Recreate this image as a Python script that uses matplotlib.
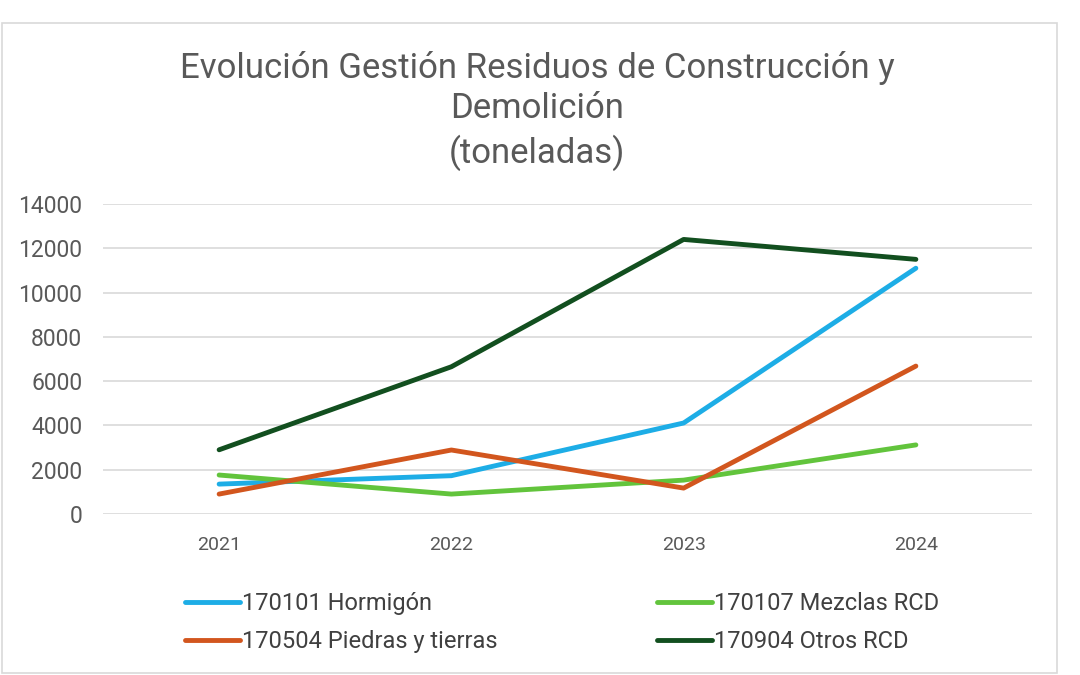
import matplotlib
matplotlib.use("Agg")
import matplotlib.pyplot as plt
from matplotlib.patches import Rectangle

years = ["2021", "2022", "2023", "2024"]
hormigon = [1350, 1730, 4110, 11100]
mezclas = [1760, 900, 1530, 3120]
piedras = [900, 2890, 1170, 6680]
otros = [2900, 6650, 12400, 11500]

series_names = ["170101 Hormigón", "170107 Mezclas RCD", "170504 Piedras y tierras", "170904 Otros RCD"]
series_vals = [hormigon, mezclas, piedras, otros]
colors = ["#1DADE6", "#62C43C", "#D2561E", "#124F1F"]
yticks = [0, 2000, 4000, 6000, 8000, 10000, 12000, 14000]

plt.rcParams['font.family'] = ['Roboto', 'DejaVu Sans']

fig = plt.figure(figsize=(10.8, 6.75), dpi=100)
fig.patch.set_facecolor("white")

# outer chart border
fig.add_artist(Rectangle((2/1080, 2/675), 1055/1080, (675-23-2)/675, transform=fig.transFigure,
                         fill=False, edgecolor="#D9D9D9", linewidth=1.2))

ax = fig.add_axes([103/1080, 1-514/675, (1032-103)/1080, (514-204)/675])
x = list(range(len(years)))
lines = []
for name, vals, c in zip(series_names, series_vals, colors):
    ln, = ax.plot(x, vals, color=c, linewidth=3.5, solid_capstyle="round", solid_joinstyle="round", label=name)
    lines.append(ln)

ax.set_xlim(-0.5, 3.5)
ax.set_ylim(0, 14000)
ax.set_yticks(yticks)
ax.set_yticklabels([str(v) for v in yticks])
ax.set_xticks(x)
ax.set_xticklabels(years)
ax.yaxis.grid(True, color="#D9D9D9", linewidth=1.2)
ax.set_axisbelow(True)
for s in ax.spines.values():
    s.set_visible(False)
ax.tick_params(axis="both", length=0, colors="#595959")
ax.tick_params(axis="y", pad=15, labelsize=16.5)
ax.tick_params(axis="x", pad=16, labelsize=14)

title_kw = dict(ha="center", va="center", fontsize=25, color="#595959")
fig.text(537/1080, 1-68/675, "Evolución Gestión Residuos de Construcción y", **title_kw)
fig.text(537/1080, 1-109/675, "Demolición", **title_kw)
fig.text(537/1080, 1-153/675, "(toneladas)", **title_kw)

leg_kw = dict(loc="center left", frameon=False, fontsize=17, handlelength=2.35,
              handletextpad=0.05, labelspacing=0.62, labelcolor="#404040",
              borderpad=0, borderaxespad=0)
leg1 = fig.legend(handles=[lines[0], lines[2]], bbox_to_anchor=(185/1080, 1-622.5/675), **leg_kw)
leg2 = fig.legend(handles=[lines[1], lines[3]], bbox_to_anchor=(657/1080, 1-622.5/675), **leg_kw)

fig.savefig("out.png", dpi=100, facecolor="white")
